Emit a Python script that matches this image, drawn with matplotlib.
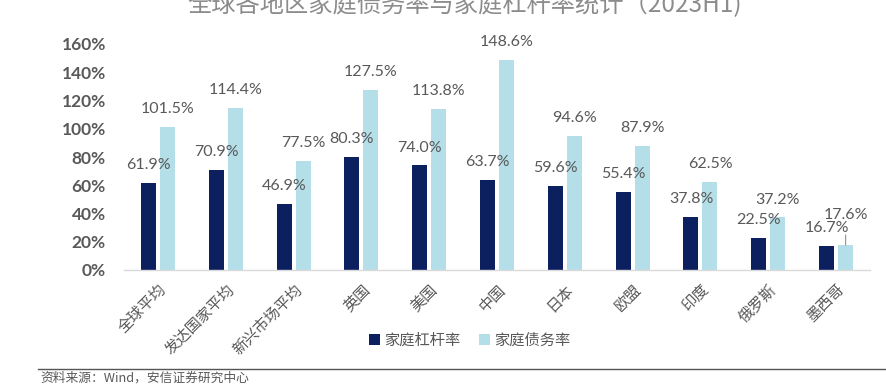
import matplotlib
matplotlib.use("Agg")
import matplotlib.pyplot as plt
import numpy as np

plt.rcParams['font.family'] = ['Noto Sans CJK SC', 'DejaVu Sans']

categories = ["全球平均", "发达国家平均", "新兴市场平均", "英国", "美国", "中国", "日本", "欧盟", "印度", "俄罗斯", "墨西哥"]
leverage = [61.9, 70.9, 46.9, 80.3, 74.0, 63.7, 59.6, 55.4, 37.8, 22.5, 16.7]
debt = [101.5, 114.4, 77.5, 127.5, 113.8, 148.6, 94.6, 87.9, 62.5, 37.2, 17.6]
yticks = [0, 20, 40, 60, 80, 100, 120, 140, 160]
series_names = ["家庭杠杆率", "家庭债务率"]
title = "全球各地区家庭债务率与家庭杠杆率统计（2023H1)"
source = "资料来源：Wind，安信证券研究中心"

dark = "#0C1F5E"
light = "#B4DEE8"
gray = "#595959"

fig = plt.figure(figsize=(8.86, 3.86), dpi=100)
ax = fig.add_axes([124/886, 116/386, (870-124)/886, (270-44)/386])

x = np.arange(len(categories))
w = 0.22
off = 0.14
b1 = ax.bar(x - off, leverage, w, color=dark, label=series_names[0])
b2 = ax.bar(x + off, debt, w, color=light, label=series_names[1])

lab_kw = dict(ha='center', va='center', fontsize=11.5, color=gray, family=['Lato', 'DejaVu Sans'])
gap = 12.7
n = len(categories)
for i in range(n):
    ax.text(x[i] - off, leverage[i] + gap, f"{leverage[i]:.1f}%", **lab_kw)
    if i == n - 1:
        ax.annotate(f"{debt[i]:.1f}%", (x[i] + off, debt[i]), xytext=(x[i] + off, debt[i] + 21),
                    arrowprops=dict(arrowstyle='-', color='#999999', lw=0.9, shrinkA=7, shrinkB=0),
                    **lab_kw)
    else:
        ax.text(x[i] + off, debt[i] + gap, f"{debt[i]:.1f}%", **lab_kw)

ax.set_xlim(-0.5, n - 0.5)
ax.set_ylim(0, 160)
ax.set_yticks(yticks)
ax.set_yticklabels([f"{v}%" for v in yticks], fontsize=12.5, color=gray, fontweight='bold',
                   family=['Lato', 'DejaVu Sans'])
ax.set_xticks(x)
ax.set_xticklabels(categories, rotation=45, ha='right', rotation_mode='anchor', fontsize=11, color=gray)
ax.tick_params(axis='both', length=0)
ax.tick_params(axis='x', pad=8)
ax.tick_params(axis='y', pad=13)
for s in ['top', 'right', 'left']:
    ax.spines[s].set_visible(False)
ax.spines['bottom'].set_color('#D9D9D9')
ax.spines['bottom'].set_linewidth(1.0)

leg = fig.legend(handles=[b1, b2], labels=series_names, loc='center', bbox_to_anchor=(470/886, 1 - 340/386),
                 ncol=2, frameon=False, fontsize=11, handlelength=0.7, handleheight=0.7, columnspacing=1.2,
                 handletextpad=0.3)
for t in leg.get_texts():
    t.set_color(gray)

fig.text(465/886, 1 - 5/386, title, ha='center', va='center', fontsize=17.5, color='#8C8C8C')

fig.add_artist(plt.Line2D([38/886, 1.0], [1 - 369/386, 1 - 369/386], color='#555555', lw=1.0))
fig.text(40/886, 1 - 378/386, source, ha='left', va='center', fontsize=9.2, color=gray, style='italic')

fig.savefig("out.png", dpi=100)
